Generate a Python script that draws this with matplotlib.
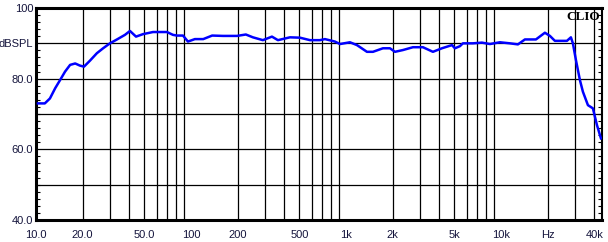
import matplotlib
matplotlib.use("Agg")
import matplotlib.pyplot as plt
import numpy as np

# frequency response
freq = [10.3, 11.4, 12.3, 13.3, 14.3, 15.4, 16.6, 17.9, 19.2, 20.4, 22.3, 24.7,
        27.1, 30.0, 33.3, 37.5, 40.4, 44.2, 49.0, 56.9, 70.0, 76.5, 81.2, 88.8,
        95.6, 106, 120, 137, 161, 198, 226, 251, 291, 333, 364, 435, 505, 586,
        680, 732, 849, 915, 1061, 1178, 1366, 1494, 1733, 1923, 2071, 2332,
        2706, 3139, 3641, 4164, 4831, 5050, 5439, 5686, 6597, 7541, 8492, 9852,
        11430, 12880, 14280, 16820, 19220, 20710, 22300, 26660, 28290, 29140,
        30470, 32340, 33810, 36430, 39220, 41640, 44190]
spl = [73.0, 73.0, 74.4, 77.3, 79.6, 82.0, 83.9, 84.3, 83.7, 83.4, 85.1, 87.2,
       88.6, 90.0, 91.1, 92.4, 93.5, 91.9, 92.6, 93.2, 93.2, 92.4, 92.2, 92.2,
       90.5, 91.2, 91.2, 92.2, 92.1, 92.1, 92.5, 91.7, 90.9, 91.9, 90.9, 91.7,
       91.6, 90.9, 90.9, 91.2, 90.5, 89.8, 90.3, 89.5, 87.6, 87.6, 88.6, 88.6,
       87.6, 88.1, 88.9, 88.9, 87.6, 88.6, 89.5, 88.6, 89.2, 90.0, 90.0, 90.2,
       89.8, 90.3, 90.0, 89.7, 91.1, 91.1, 93.0, 92.1, 90.7, 90.7, 91.7, 90.0,
       85.3, 79.6, 76.3, 72.5, 71.6, 66.9, 63.1]

xticks = [10, 20, 50, 100, 200, 500, 1000, 2000, 5000, 10000, 20000, 40000]
xlabels = ['10.0', '20.0', '50.0', '100', '200', '500', '1k', '2k', '5k', '10k', 'Hz', '40k']
yticks = [40, 60, 80, 90, 100]
ylabels = ['40.0', '60.0', '80.0', 'dBSPL', '100']

txtcol = '#14143c'
plt.rcParams['font.family'] = ['Liberation Sans', 'DejaVu Sans']

fig = plt.figure(figsize=(6.08, 2.42), dpi=100)
ax = fig.add_axes([36 / 608, 22 / 242, 566 / 608, 212 / 242])
ax.set_xscale('log')
ax.set_xlim(10, 44900)
ax.set_ylim(40, 100)

# grid
for d in [10, 100, 1000, 10000]:
    for m in range(2, 10):
        f = d * m
        if f <= 40000:
            ax.axvline(f, color='black', lw=0.9, zorder=1)
for y in [50, 60, 70, 80, 90]:
    ax.axhline(y, color='black', lw=0.9, zorder=1)

ax.plot(freq, spl, color='#0000ff', lw=1.8, zorder=3)

ax.set_xticks(xticks)
ax.set_xticklabels(xlabels)
ax.xaxis.set_minor_locator(matplotlib.ticker.NullLocator())
ax.set_yticks(yticks)
ax.set_yticklabels(ylabels)
ax.set_yticks(np.arange(42, 100, 2), minor=True)
ax.tick_params(axis='x', length=0, pad=7, labelsize=8, labelcolor=txtcol)
ax.tick_params(axis='y', which='major', length=0, pad=2, labelsize=8, labelcolor=txtcol)
ax.tick_params(axis='y', which='minor', direction='in', length=3, width=0.8,
               left=True, right=True)

for s in ['top', 'bottom', 'left']:
    ax.spines[s].set_linewidth(2.2)
ax.spines['right'].set_linewidth(1.5)

ax.text(0.997, 0.985, 'CLIO', transform=ax.transAxes, ha='right', va='top',
        fontsize=9.5, fontweight='bold', family='Liberation Serif', color='black')

fig.savefig('out.png', dpi=100)
